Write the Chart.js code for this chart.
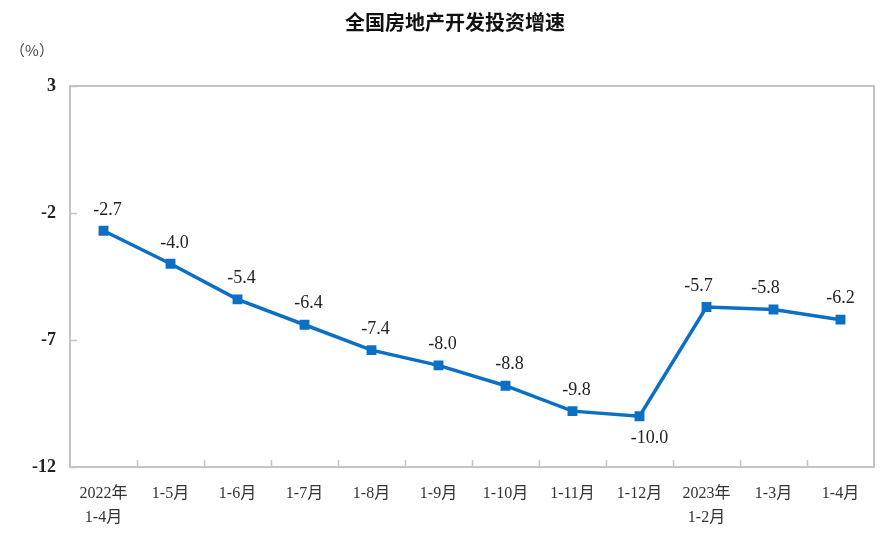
<!DOCTYPE html>
<html>
<head>
<meta charset="utf-8">
<script src="https://cdn.jsdelivr.net/npm/chart.js@4"></script>
<style>
  html, body { margin: 0; padding: 0; background: #fff; }
  #wrap { width: 888px; height: 542px; }
</style>
</head>
<body>
<div id="wrap"><canvas id="invChart"></canvas></div>
<script>
const categories = [['2022年', '1-4月'], '1-5月', '1-6月', '1-7月', '1-8月', '1-9月', '1-10月', '1-11月', '1-12月', ['2023年', '1-2月'], '1-3月', '1-4月'];
const growth = [-2.7, -4.0, -5.4, -6.4, -7.4, -8.0, -8.8, -9.8, -10.0, -5.7, -5.8, -6.2];
const yTicks = [3, -2, -7, -12];
const titleText = '全国房地产开发投资增速';
const unitText = '（%）';

const serif = '"Liberation Serif", "Noto Sans CJK SC", serif';
const lineBlue = '#0b6fc4';

// frame, inward ticks, title, value labels
const decor = {
  id: 'decor',
  afterDraw(chart) {
    const { ctx, chartArea: a, scales } = chart;
    ctx.save();
    ctx.strokeStyle = '#c4c4c4';
    ctx.lineWidth = 2;
    ctx.strokeRect(a.left, a.top, a.right - a.left, a.bottom - a.top);
    ctx.lineWidth = 1.5;
    ctx.beginPath();
    yTicks.forEach(v => {
      const y = Math.round(scales.y.getPixelForValue(v)) + 0.5;
      ctx.moveTo(a.left, y); ctx.lineTo(a.left + 7, y);
    });
    for (let i = 1; i < categories.length; i++) {
      const x = Math.round((scales.x.getPixelForValue(i - 1) + scales.x.getPixelForValue(i)) / 2) + 0.5;
      ctx.moveTo(x, a.bottom); ctx.lineTo(x, a.bottom - 7);
    }
    ctx.stroke();

    ctx.fillStyle = '#111';
    ctx.textAlign = 'center';
    ctx.textBaseline = 'middle';
    ctx.font = 'bold 20px "Noto Sans CJK SC", sans-serif';
    ctx.fillText(titleText, 455, 22);
    ctx.font = '15px "Noto Sans CJK SC", sans-serif';
    ctx.fillStyle = '#444';
    ctx.fillText(unitText, 32, 50);

    ctx.font = '18px ' + serif;
    ctx.fillStyle = '#222';
    const meta = chart.getDatasetMeta(0);
    meta.data.forEach((pt, i) => {
      const v = growth[i];
      const below = i === 8;
      const dx = i < 9 ? 4 : (i === 11 ? 0 : -8);
      ctx.fillText(v.toFixed(1), pt.x + dx + (below ? 6 : 0), below ? pt.y + 22 : pt.y - 21);
    });
    ctx.restore();
  }
};

new Chart(document.getElementById('invChart'), {
  type: 'line',
  data: {
    labels: categories,
    datasets: [{
      data: growth,
      borderColor: lineBlue,
      backgroundColor: lineBlue,
      borderWidth: 3.5,
      pointStyle: 'rect',
      pointRadius: 4.5,
      pointHoverRadius: 4.5,
      tension: 0
    }]
  },
  options: {
    responsive: true,
    maintainAspectRatio: false,
    animation: false,
    layout: { padding: { top: 86, right: 14, left: 0, bottom: 0 } },
    plugins: {
      legend: { display: false },
      title: { display: false },
      tooltip: { enabled: false }
    },
    scales: {
      x: {
        offset: true,
        grid: { display: false, drawTicks: false },
        border: { display: false },
        afterFit(s) { s.height = 75; },
        ticks: {
          color: '#333',
          padding: 14,
          maxRotation: 0,
          autoSkip: false,
          font: { family: serif, size: 16, lineHeight: 1.55 }
        }
      },
      y: {
        min: -12,
        max: 3,
        afterFit(s) { s.width = 70; },
        afterBuildTicks(s) { s.ticks = yTicks.map(v => ({ value: v })); },
        grid: { display: false, drawTicks: false },
        border: { display: false },
        ticks: {
          color: '#222',
          padding: 14,
          font: { family: serif, size: 18, weight: 'bold' }
        }
      }
    }
  },
  plugins: [decor]
});
</script>
</body>
</html>
